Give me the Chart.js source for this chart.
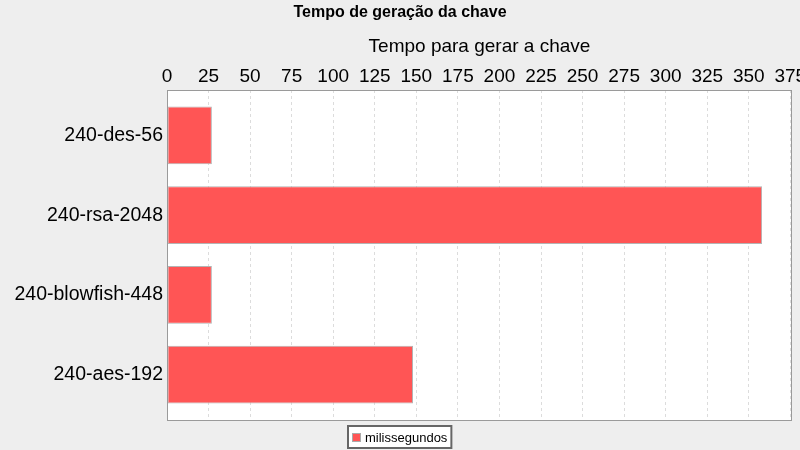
<!DOCTYPE html>
<html>
<head>
<meta charset="utf-8">
<script src="https://cdn.jsdelivr.net/npm/chart.js@4"></script>
<style>
  html, body { margin: 0; padding: 0; background: #eeeeee; }
</style>
</head>
<body>
<canvas id="chart" width="800" height="450"></canvas>
<script>
const chartTitle = 'Tempo de geração da chave';
const axisTitle = 'Tempo para gerar a chave';
const seriesName = 'milissegundos';
const categories = ['240-des-56', '240-rsa-2048', '240-blowfish-448', '240-aes-192'];
const tempos = [27, 358, 27, 148];
const axisMax = 376;
const axisStep = 25;

// fundo cinza + area do grafico branca, borda, titulos e legenda
const plotDecor = {
    id: 'plotDecor',
    beforeDraw(chart) {
        const ctx = chart.ctx;
        const a = chart.chartArea;
        ctx.save();
        ctx.fillStyle = '#eeeeee';
        ctx.fillRect(0, 0, chart.width, chart.height);
        ctx.fillStyle = '#ffffff';
        ctx.fillRect(a.left, a.top, a.right - a.left, a.bottom - a.top);
        ctx.restore();
    },
    afterDraw(chart) {
        const ctx = chart.ctx;
        const a = chart.chartArea;
        ctx.save();
        ctx.strokeStyle = '#9a9a9a';
        ctx.lineWidth = 1;
        ctx.strokeRect(a.left + 0.5, a.top + 0.5, a.right - a.left - 1, a.bottom - a.top);

        ctx.fillStyle = '#000';
        ctx.textAlign = 'center';
        ctx.textBaseline = 'middle';
        ctx.font = 'bold 16px "Liberation Sans", Arial, sans-serif';
        ctx.fillText(chartTitle, 400, 13);
        ctx.font = '19px "Liberation Sans", Arial, sans-serif';
        ctx.fillText(axisTitle, (a.left + a.right) / 2, 47);

        // legenda
        const ds = chart.data.datasets[0];
        ctx.font = '13px "Liberation Sans", Arial, sans-serif';
        const tw = ctx.measureText(ds.label).width;
        const w = tw + 21, h = 22;
        const x = Math.round(400 - w / 2), y = 426;
        ctx.fillStyle = '#fff';
        ctx.fillRect(x, y, w, h);
        ctx.strokeStyle = '#666';
        ctx.lineWidth = 2;
        ctx.strokeRect(x, y, w, h);
        ctx.fillStyle = ds.backgroundColor;
        ctx.fillRect(x + 4, y + 7, 9, 9);
        ctx.strokeStyle = '#aaa';
        ctx.lineWidth = 1;
        ctx.strokeRect(x + 4.5, y + 7.5, 8, 8);
        ctx.fillStyle = '#000';
        ctx.textAlign = 'left';
        ctx.fillText(ds.label, x + 17, y + h / 2 + 1);
        ctx.restore();
    }
};

new Chart(document.getElementById('chart'), {
    type: 'bar',
    data: {
        datasets: [{
            label: seriesName,
            data: tempos.map((v, i) => ({ x: v, y: i })),
            backgroundColor: '#ff5555',
            borderColor: '#b4b4b4',
            borderWidth: 1,
            borderSkipped: false,
            barPercentage: 0.724,
            categoryPercentage: 1.0
        }]
    },
    options: {
        indexAxis: 'y',
        responsive: false,
        animation: false,
        layout: { padding: { top: 0, left: 0, right: 8, bottom: 30 } },
        plugins: {
            legend: { display: false },
            title: { display: false },
            tooltip: { enabled: false }
        },
        scales: {
            x: {
                type: 'linear',
                position: 'top',
                min: 0,
                max: axisMax,
                afterFit: scale => {
                    scale.height = 90;
                    scale.paddingLeft = 0;
                    scale.paddingRight = 0;
                },
                ticks: {
                    stepSize: axisStep,
                    includeBounds: false,
                    color: '#000',
                    padding: 2,
                    maxRotation: 0,
                    autoSkip: false,
                    font: { family: '"Liberation Sans", Arial, sans-serif', size: 19 }
                },
                grid: {
                    color: '#dcdcdc',
                    drawTicks: false
                },
                border: { display: false, dash: [3, 3] }
            },
            y: {
                type: 'linear',
                reverse: true,
                offset: false,
                min: -0.569,
                max: 3.569,
                afterFit: scale => {
                    scale.width = 167;
                    scale.paddingTop = 0;
                    scale.paddingBottom = 0;
                },
                ticks: {
                    stepSize: 1,
                    includeBounds: false,
                    autoSkip: false,
                    color: '#000',
                    padding: 4,
                    font: { family: '"Liberation Sans", Arial, sans-serif', size: 19.5 },
                    callback: v => categories[v] ?? ''
                },
                grid: { display: false, drawTicks: false },
                border: { display: false }
            }
        }
    },
    plugins: [plotDecor]
});
</script>
</body>
</html>
